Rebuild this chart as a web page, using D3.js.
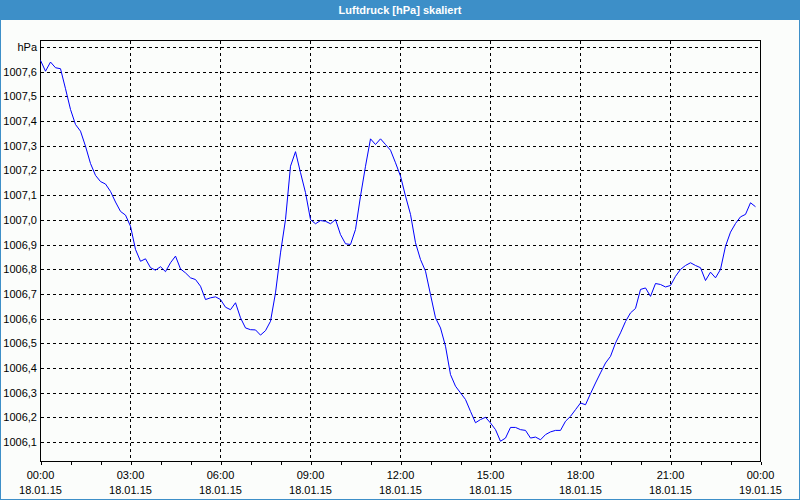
<!DOCTYPE html>
<html><head><meta charset="utf-8">
<script src="https://cdn.jsdelivr.net/npm/d3@7"></script>
<style>html,body{margin:0;padding:0;background:#fff;}svg{display:block;}</style>
</head><body>
<script>
// ---- data (10-minute samples, 18.01.15 00:00 .. 23:50) ----
const startTime = "2015-01-18T00:00:00";
const stepMinutes = 10;
const pressure = [
1007.646,1007.602,1007.639,1007.616,1007.612,1007.531,1007.447,1007.386,1007.359,1007.298,
1007.228,1007.180,1007.155,1007.145,1007.115,1007.072,1007.034,1007.019,1006.974,1006.880,
1006.832,1006.842,1006.806,1006.796,1006.810,1006.790,1006.826,1006.853,1006.801,1006.785,
1006.765,1006.758,1006.731,1006.677,1006.684,1006.688,1006.677,1006.646,1006.636,1006.664,
1006.603,1006.562,1006.555,1006.554,1006.533,1006.551,1006.589,1006.704,1006.866,1007.001,
1007.217,1007.276,1007.191,1007.110,1007.001,1006.984,1006.997,1006.994,1006.984,1007.001,
1006.940,1006.903,1006.900,1006.961,1007.096,1007.217,1007.328,1007.305,1007.328,1007.305,
1007.282,1007.231,1007.177,1007.096,1007.022,1006.907,1006.839,1006.792,1006.697,1006.603,
1006.562,1006.488,1006.373,1006.326,1006.299,1006.272,1006.224,1006.178,1006.191,1006.200,
1006.177,1006.150,1006.103,1006.116,1006.159,1006.159,1006.150,1006.147,1006.116,1006.120,
1006.109,1006.130,1006.141,1006.147,1006.147,1006.184,1006.204,1006.231,1006.258,1006.251,
1006.296,1006.339,1006.380,1006.420,1006.447,1006.501,1006.542,1006.588,1006.623,1006.641,
1006.718,1006.724,1006.690,1006.742,1006.738,1006.728,1006.734,1006.771,1006.799,1006.815,
1006.826,1006.815,1006.806,1006.754,1006.788,1006.765,1006.799,1006.893,1006.950,1006.985,
1007.012,1007.022,1007.069,1007.053
];
const yTicks = [1006.1,1006.2,1006.3,1006.4,1006.5,1006.6,1006.7,1006.8,1006.9,1007.0,1007.1,1007.2,1007.3,1007.4,1007.5,1007.6,1007.7];
const yUnit = "hPa";
const xTickHours = [0,3,6,9,12,15,18,21,24];
const xTimeLabels = ["00:00","03:00","06:00","09:00","12:00","15:00","18:00","21:00","00:00"];
const xDateLabels = ["18.01.15","18.01.15","18.01.15","18.01.15","18.01.15","18.01.15","18.01.15","18.01.15","19.01.15"];
const title = "Luftdruck [hPa] skaliert";

// ---- layout ----
const W = 800, H = 500;
const L = 40, R = 760, T = 40, B = 461;
const FONT = "'Liberation Sans', Arial, sans-serif";

const t0 = new Date(startTime);
const data = pressure.map((v, i) => ({ t: new Date(t0.getTime() + i * stepMinutes * 60000), v }));
const hourDate = h => new Date(t0.getTime() + h * 3600000);

const x = d3.scaleTime().domain([hourDate(0), hourDate(24)]).range([L, R]);
const y = d3.scaleLinear().domain([1006.1, 1007.7]).range([442, 47]);

const svg = d3.select("body").append("svg").attr("width", W).attr("height", H);

// background + border
svg.append("rect").attr("x", 0).attr("y", 0).attr("width", W).attr("height", H).attr("fill", "#fbfdfb");
svg.append("rect").attr("x", 0.5).attr("y", 0.5).attr("width", W - 1).attr("height", H - 1)
  .attr("fill", "none").attr("stroke", "#3d8fc8").attr("stroke-width", 1);
// title bar
svg.append("rect").attr("x", 0).attr("y", 0).attr("width", W).attr("height", 20).attr("fill", "#3d8fc8");
svg.append("text").attr("x", W / 2).attr("y", 14).attr("text-anchor", "middle")
  .attr("font-family", FONT).attr("font-weight", "bold").attr("font-size", 11).attr("fill", "#fff").text(title);

// grid
const grid = svg.append("g").attr("stroke", "#000").attr("stroke-width", 1).attr("stroke-dasharray", "3,3").attr("shape-rendering", "crispEdges");
yTicks.forEach(v => {
  const yy = Math.round(y(v)) + 0.5;
  grid.append("line").attr("x1", L + 1).attr("x2", R).attr("y1", yy).attr("y2", yy);
});
xTickHours.slice(1, -1).forEach(h => {
  const xx = Math.round(x(hourDate(h))) + 0.5;
  grid.append("line").attr("x1", xx).attr("x2", xx).attr("y1", T + 1).attr("y2", B);
});

// x axis (hourly ticks, labels every 3 h)
const xAxis = d3.axisBottom(x).ticks(d3.timeHour.every(1)).tickSize(3).tickFormat("");
const gx = svg.append("g").attr("transform", `translate(0.5,${B + 0.5})`).call(xAxis);
gx.select(".domain").remove();
gx.selectAll("line").attr("stroke", "#000").attr("shape-rendering", "crispEdges");

const xl = svg.append("g").attr("font-family", FONT).attr("font-size", 11).attr("fill", "#000").attr("text-anchor", "middle");
xTickHours.forEach((h, i) => {
  const xx = x(hourDate(h)) + 0.5;
  xl.append("text").attr("x", xx).attr("y", 479).text(xTimeLabels[i]);
  xl.append("text").attr("x", xx).attr("y", 494).text(xDateLabels[i]);
});

// y labels
const yl = svg.append("g").attr("font-family", FONT).attr("font-size", 11).attr("fill", "#000").attr("text-anchor", "end");
yTicks.forEach(v => {
  const lab = v >= 1007.7 - 1e-9 ? yUnit : d3.format(".1f")(v).replace(".", ",");
  yl.append("text").attr("x", 37).attr("y", Math.round(y(v)) + 4).text(lab);
});

// frame
svg.append("rect").attr("x", L + 0.5).attr("y", T + 0.5).attr("width", R - L).attr("height", B - T)
  .attr("fill", "none").attr("stroke", "#000").attr("stroke-width", 1).attr("shape-rendering", "crispEdges");

// data line
const line = d3.line().x(d => x(d.t) + 0.5).y(d => y(d.v));
svg.append("path").datum(data).attr("d", line).attr("fill", "none").attr("stroke", "#0000ff").attr("stroke-width", 1);
</script>
</body></html>
